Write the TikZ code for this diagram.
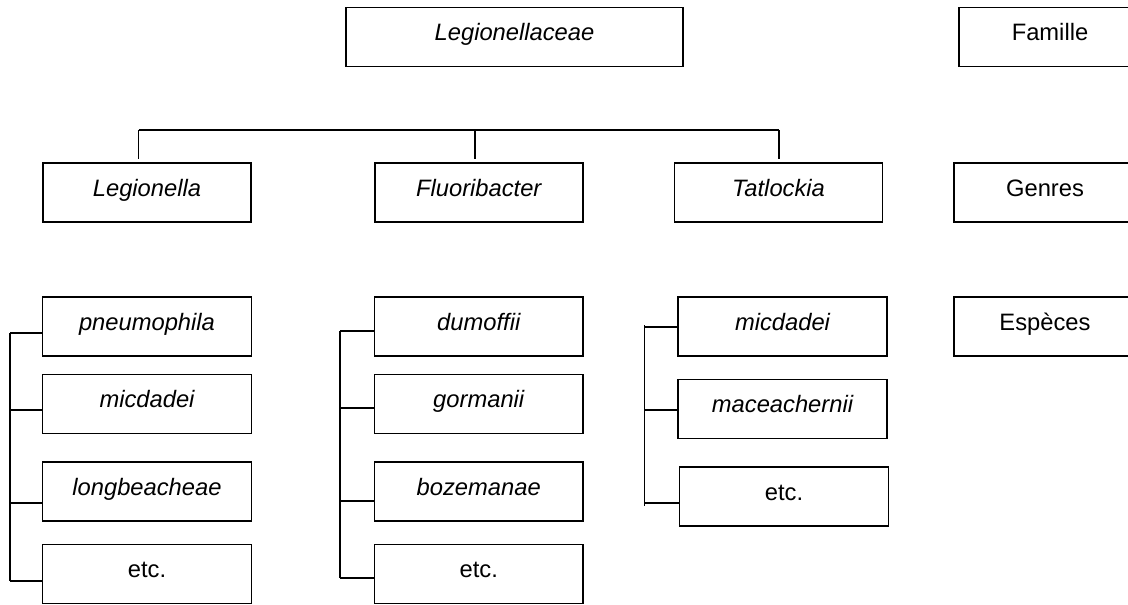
\documentclass[tikz,border=0pt]{standalone}
\usepackage{fontspec}
\setmainfont{Liberation Sans}
\usetikzlibrary{positioning}

\begin{document}
\begin{tikzpicture}[x=0.75pt, y=-0.75pt]
   \fontsize{17.8pt}{21pt}\selectfont
    % --- STYLES ---
    \tikzstyle{box} = [rectangle, draw=black, line width=1.2pt, fill=white, text centered, text height=12.5pt, text depth=6.8pt, minimum height=44.5pt]
    \tikzstyle{family} = [box, minimum width=252.75pt, font=\itshape]
    \tikzstyle{genus} = [box, minimum width=156pt, font=\itshape]
    \tikzstyle{species} = [box, minimum width=156.5pt, font=\itshape]
    \tikzstyle{legend} = [box, minimum width=136.5pt]
    \tikzstyle{link} = [line width=1.2pt]

    \useasboundingbox (0,0) rectangle (1128,604);
    \clip (0,0) rectangle (1128,604);

    % --- NODES ---
    \node (family)       [family]  at (514.5, 37)    {Legionellaceae};

    \node (legionella)   [genus]   at (147, 192.5)   {Legionella};
    \node (fluoribacter) [genus]   at (478.75, 192.5) {Fluoribacter};
    \node (tatlockia)    [genus]   at (778.5, 192.5) {Tatlockia};

    % Legionella species
    \node (pneumophila)  [species] at (147, 326.5)   {pneumophila};
    \node (micdadeiA)    [species] at (147, 404)     {micdadei};
    \node (longbeacheae) [species] at (147, 491.5)   {longbeacheae};
    \node (etcA)         [species, font=\upshape] at (147, 574) {etc.};

    % Fluoribacter species
    \node (dumoffii)     [species] at (478.75, 326.5) {dumoffii};
    \node (gormanii)     [species] at (478.75, 404)   {gormanii};
    \node (bozemanae)    [species] at (478.75, 491.5) {bozemanae};
    \node (etcB)         [species, font=\upshape] at (478.75, 574) {etc.};

    % Tatlockia species
    \node (micdadeiC)    [species] at (782.5, 326.5) {micdadei};
    \node (maceachernii) [species] at (782.5, 409)   {maceachernii};
    \node (etcC)         [species, font=\upshape] at (784, 496.5) {etc.};

    % Ranks
    \node (famille)      [legend]  at (1050, 37)     {Famille};
    \node (genres)       [legend]  at (1045, 192.5)  {Genres};
    \node (especes)      [legend]  at (1045, 326.5)  {Espèces};

    \coordinate (barleft)  at (138.5, 130);
    \coordinate (barmid)   at (475, 130);
    \coordinate (barright) at (779, 130);

    % --- LINES ---
    % Genera
    \draw[link] (barleft) -- (barright);
    \draw[link, shorten >=2pt] (barleft) -- (barleft |- legionella.north);
    \draw[link, shorten >=2pt] (barmid) -- (barmid |- fluoribacter.north);
    \draw[link, shorten >=2pt] (barright) -- (barright |- tatlockia.north);

    % Legionella species
    \draw[link] ([shift={(-32,6.5)}]pneumophila.west) -- ([shift={(-32,7)}]etcA.west);
    \draw[link] ([yshift=-4.9pt]pneumophila.west) -- ++(-32,0);
    \draw[link] ([yshift=-4.5pt]micdadeiA.west) -- ++(-32,0);
    \draw[link] ([yshift=-8.6pt]longbeacheae.west) -- ++(-32,0);
    \draw[link] ([yshift=-5.3pt]etcA.west) -- ++(-32,0);

    % Fluoribacter species
    \draw[link] ([shift={(-33.5,4.5)}]dumoffii.west) -- ([shift={(-33.5,4)}]etcB.west);
    \draw[link] ([yshift=-3.4pt]dumoffii.west) -- ++(-33.5,0);
    \draw[link] ([yshift=-3pt]gormanii.west) -- ++(-33.5,0);
    \draw[link] ([yshift=-7.1pt]bozemanae.west) -- ++(-33.5,0);
    \draw[link] ([yshift=-3pt]etcB.west) -- ++(-33.5,0);

    % Tatlockia species
    \draw[link] ([shift={(-33,-1.5)}]micdadeiC.west) -- ([shift={(-34.5,9.5)}]etcC.west);
    \draw[link] ([yshift=-0.4pt]micdadeiC.west) -- ++(-33,0);
    \draw[link] ([yshift=-0.8pt]maceachernii.west) -- ++(-33,0);
    \draw[link] ([yshift=-4.9pt]etcC.west) -- ++(-34.5,0);

  \end{tikzpicture}
\end{document}
